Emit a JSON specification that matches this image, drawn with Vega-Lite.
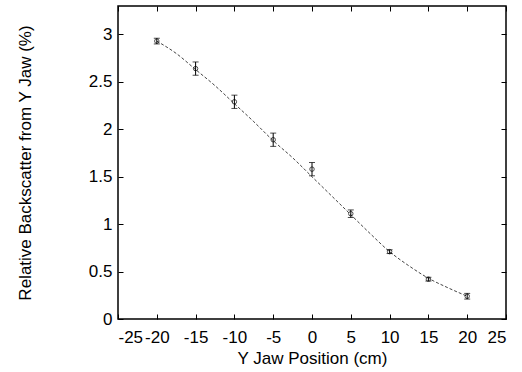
{
  "$schema": "https://vega.github.io/schema/vega-lite/v6.json",
  "width": 388,
  "height": 313,
  "autosize": "none",
  "padding": {"left": 118, "top": 6, "right": 16, "bottom": 53},
  "background": "white",
  "config": {
    "font": "Liberation Sans",
    "view": {"stroke": "black", "strokeWidth": 1.5},
    "axis": {
      "grid": false,
      "domain": false,
      "tickColor": "black",
      "tickSize": -5,
      "tickWidth": 1,
      "labelExpr": "'' + datum.value",
      "labelOverlap": false,
      "labelFont": "Liberation Sans",
      "labelFontSize": 17,
      "labelColor": "black",
      "titleFont": "Liberation Sans",
      "titleFontSize": 17,
      "titleFontWeight": "normal",
      "titleColor": "black"
    }
  },
  "datasets": {
    "measured": [
      {"pos": -20, "backscatter": 2.93, "lo": 2.90, "hi": 2.96},
      {"pos": -15, "backscatter": 2.64, "lo": 2.57, "hi": 2.71},
      {"pos": -10, "backscatter": 2.29, "lo": 2.22, "hi": 2.36},
      {"pos": -5, "backscatter": 1.89, "lo": 1.82, "hi": 1.96},
      {"pos": 0, "backscatter": 1.58, "lo": 1.51, "hi": 1.65},
      {"pos": 5, "backscatter": 1.11, "lo": 1.07, "hi": 1.15},
      {"pos": 10, "backscatter": 0.71, "lo": 0.69, "hi": 0.73},
      {"pos": 15, "backscatter": 0.42, "lo": 0.40, "hi": 0.44},
      {"pos": 20, "backscatter": 0.24, "lo": 0.21, "hi": 0.27}
    ],
    "fit": [
      {"pos": -20, "backscatter": 2.93},
      {"pos": -17.5, "backscatter": 2.80},
      {"pos": -15, "backscatter": 2.63},
      {"pos": -12.5, "backscatter": 2.46},
      {"pos": -10, "backscatter": 2.27},
      {"pos": -7.5, "backscatter": 2.08},
      {"pos": -5, "backscatter": 1.88},
      {"pos": -2.5, "backscatter": 1.70},
      {"pos": 0, "backscatter": 1.50},
      {"pos": 2.5, "backscatter": 1.30},
      {"pos": 5, "backscatter": 1.10},
      {"pos": 7.5, "backscatter": 0.90},
      {"pos": 10, "backscatter": 0.71},
      {"pos": 12.5, "backscatter": 0.56},
      {"pos": 15, "backscatter": 0.43},
      {"pos": 17.5, "backscatter": 0.33},
      {"pos": 20, "backscatter": 0.24}
    ]
  },
  "layer": [
    {
      "data": {"name": "fit"},
      "mark": {"type": "line", "color": "#444", "strokeWidth": 1, "strokeDash": [3, 2], "interpolate": "monotone"},
      "encoding": {
        "x": {
          "field": "pos", "type": "quantitative",
          "scale": {"domain": [-25, 25], "nice": false},
          "axis": {"orient": "bottom", "values": [-25, -20, -15, -10, -5, 0, 5, 10, 15, 20, 25], "labelPadding": 15, "title": "Y Jaw Position (cm)", "titleY": 31, "titleBaseline": "top"}
        },
        "y": {
          "field": "backscatter", "type": "quantitative",
          "scale": {"domain": [0, 3.3], "nice": false},
          "axis": {"orient": "left", "values": [0, 0.5, 1, 1.5, 2, 2.5, 3], "labelPadding": 11, "title": "Relative Backscatter from Y Jaw (%)", "titleX": -93, "titleBaseline": "middle"}
        }
      }
    },
    {
      "data": {"name": "measured"},
      "mark": {"type": "errorbar", "ticks": {"size": 6, "color": "black"}, "rule": {"color": "black", "strokeWidth": 1}},
      "encoding": {
        "x": {"field": "pos", "type": "quantitative", "axis": {"orient": "top", "values": [-25, -20, -15, -10, -5, 0, 5, 10, 15, 20, 25], "labels": false, "title": null}},
        "y": {"field": "lo", "type": "quantitative", "axis": {"orient": "right", "values": [0, 0.5, 1, 1.5, 2, 2.5, 3], "labels": false, "title": null}},
        "y2": {"field": "hi"}
      }
    },
    {
      "data": {"name": "measured"},
      "mark": {"type": "point", "shape": "circle", "filled": false, "color": "black", "size": 20, "strokeWidth": 1},
      "encoding": {
        "x": {"field": "pos", "type": "quantitative", "axis": null},
        "y": {"field": "backscatter", "type": "quantitative", "axis": null}
      }
    }
  ],
  "resolve": {"axis": {"x": "independent", "y": "independent"}}
}
